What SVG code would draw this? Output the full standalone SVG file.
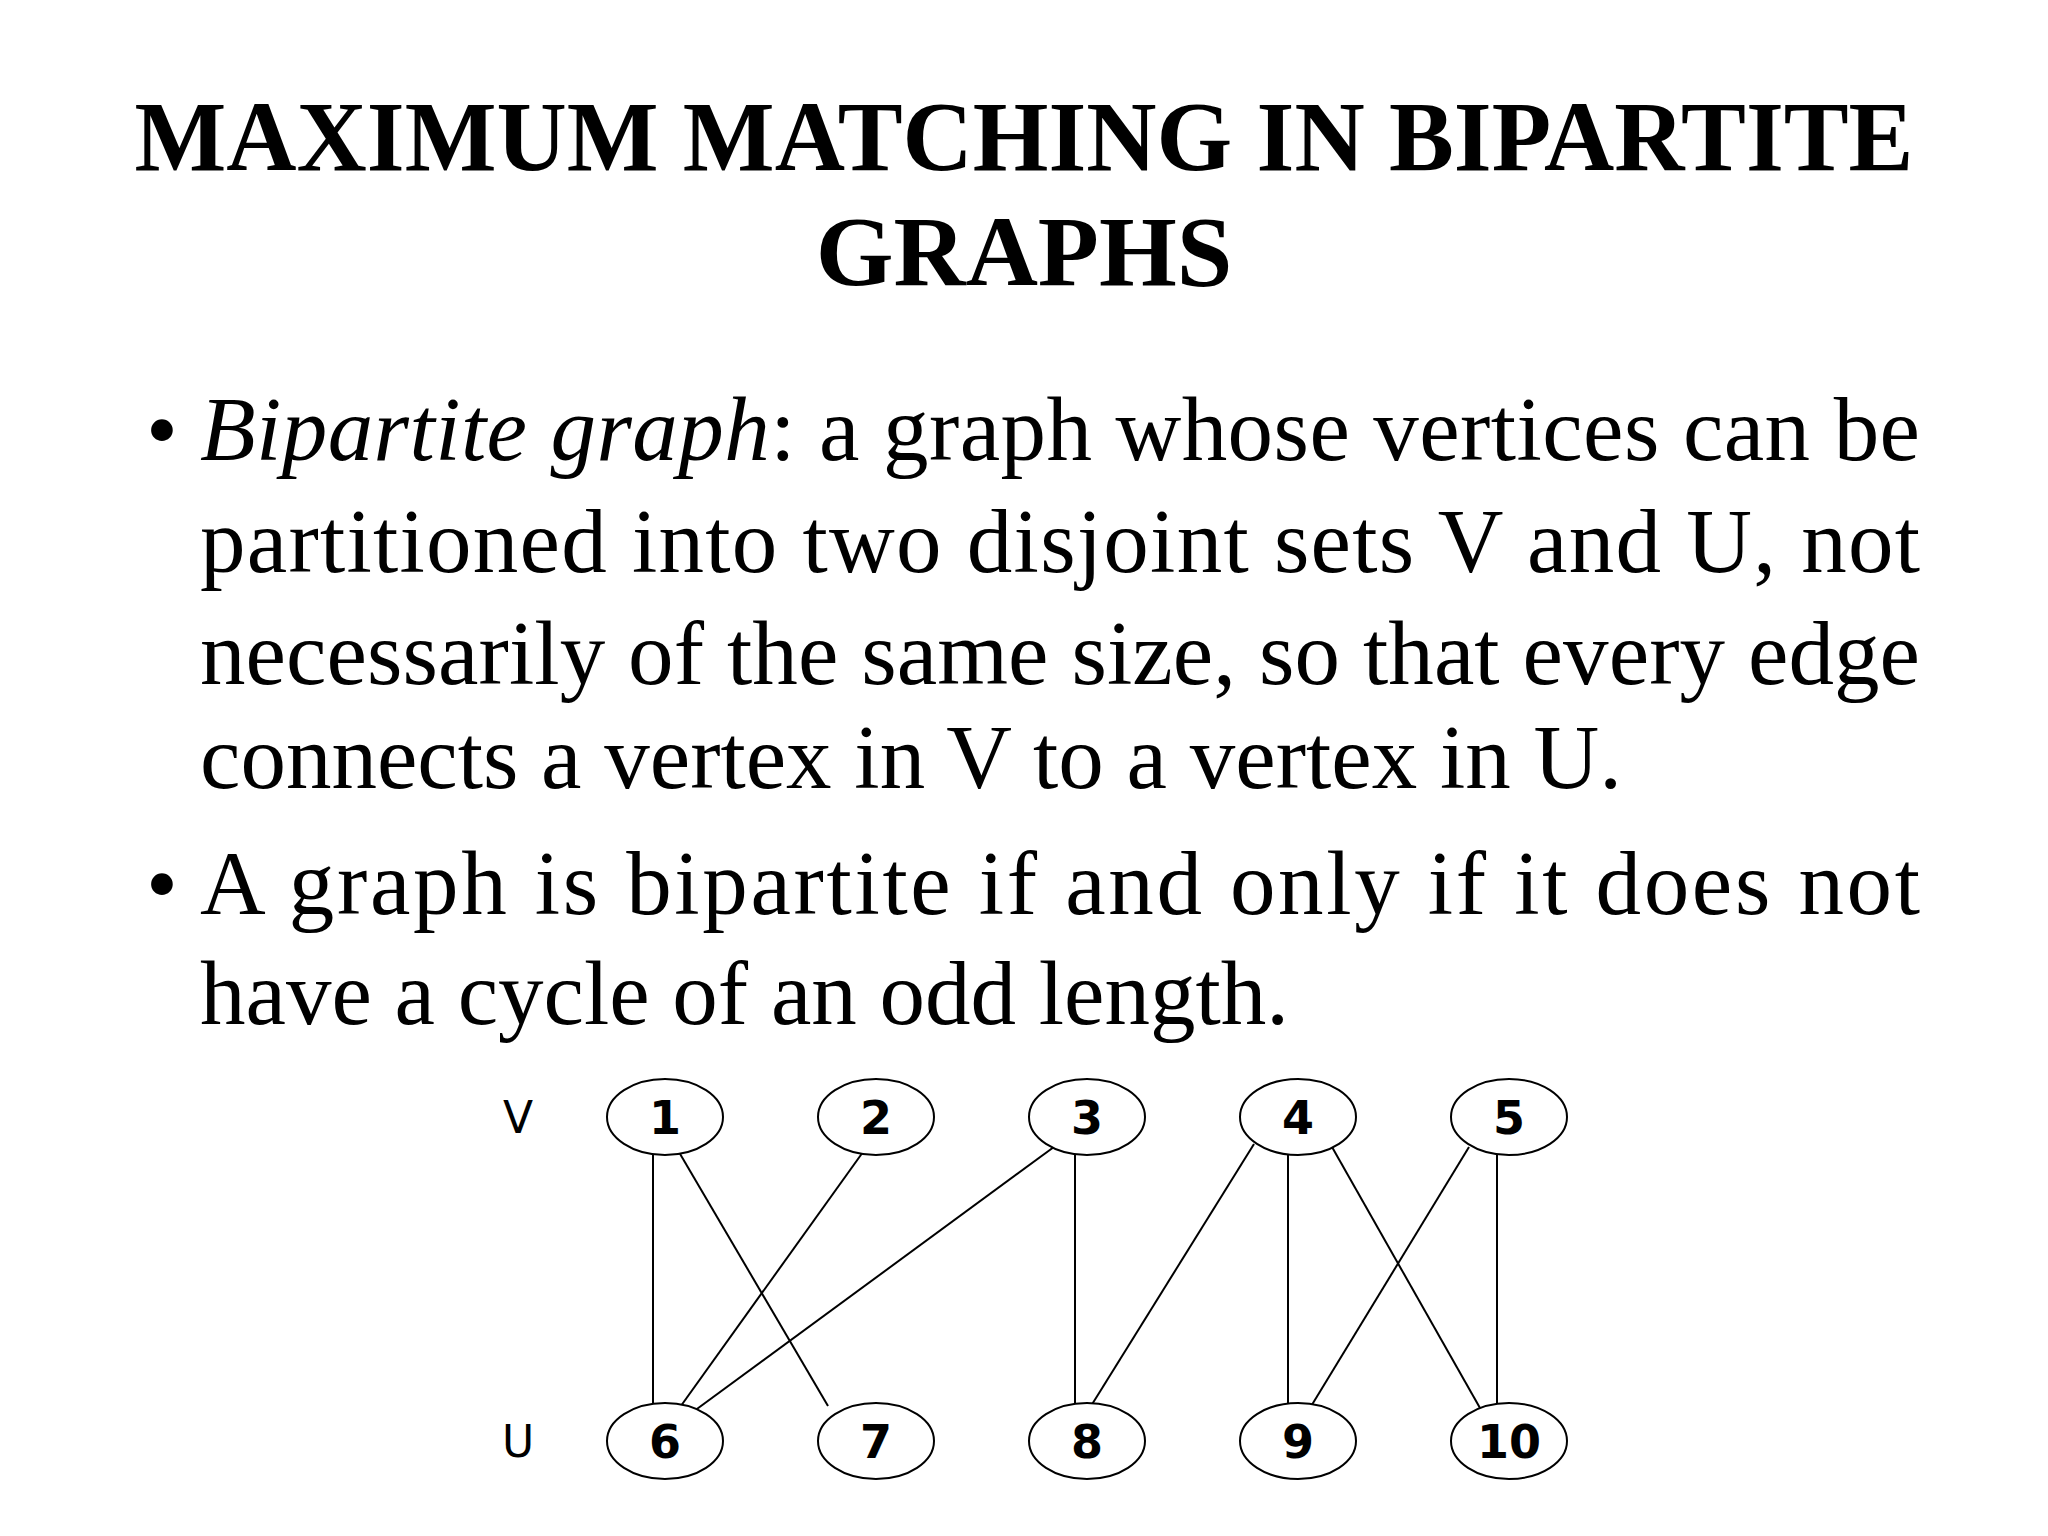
<svg xmlns="http://www.w3.org/2000/svg" width="2048" height="1536" viewBox="0 0 2048 1536">
<style>
.t{font-family:"Liberation Serif","Times New Roman",serif;font-weight:bold;font-size:100px;text-anchor:middle}
.b{font-family:"Liberation Serif","Times New Roman",serif;font-size:91px}
.n ellipse{fill:#fff;stroke:#000;stroke-width:2}
.n text{font-family:"DejaVu Sans",sans-serif;font-weight:bold;font-size:46px;text-anchor:middle}
.lab{font-family:"DejaVu Sans",sans-serif;font-size:44px;text-anchor:middle}
#edges line{stroke:#000;stroke-width:2}
</style>
<rect width="2048" height="1536" fill="#fff"/>
<text class="t" x="1024" y="170" textLength="1779" lengthAdjust="spacingAndGlyphs">MAXIMUM MATCHING IN BIPARTITE</text>
<text class="t" x="1024" y="285">GRAPHS</text>
<text class="b" x="146" y="460">•</text>
<text class="b" x="200" y="460" textLength="1720" lengthAdjust="spacing"><tspan font-style="italic">Bipartite graph</tspan>: a graph whose vertices can be</text>
<text class="b" x="200" y="572" textLength="1720" lengthAdjust="spacing">partitioned into two disjoint sets V and U, not</text>
<text class="b" x="200" y="684" textLength="1720" lengthAdjust="spacing">necessarily of the same size, so that every edge</text>
<text class="b" x="200" y="788">connects a vertex in V to a vertex in U.</text>
<text class="b" x="146" y="914">•</text>
<text class="b" x="200" y="914" textLength="1720" lengthAdjust="spacing">A graph is bipartite if and only if it does not</text>
<text class="b" x="200" y="1024">have a cycle of an odd length.</text>
<text class="lab" x="518" y="1133">V</text>
<text class="lab" x="518" y="1457">U</text>
<g id="edges">
<line x1="653" y1="1154" x2="653" y2="1404"/>
<line x1="676" y1="1147" x2="828" y2="1406"/>
<line x1="863" y1="1152" x2="678" y2="1410"/>
<line x1="1058" y1="1144" x2="686" y2="1417"/>
<line x1="1075" y1="1154" x2="1075" y2="1404"/>
<line x1="1254" y1="1144" x2="1091" y2="1406"/>
<line x1="1288" y1="1154" x2="1288" y2="1404"/>
<line x1="1332" y1="1147" x2="1480" y2="1408"/>
<line x1="1469" y1="1147" x2="1310" y2="1408"/>
<line x1="1497" y1="1154" x2="1497" y2="1404"/>
</g>
<g id="n1" class="n"><ellipse cx="665" cy="1117" rx="58" ry="38"/><text x="665" y="1134">1</text></g>
<g id="n2" class="n"><ellipse cx="876" cy="1117" rx="58" ry="38"/><text x="876" y="1134">2</text></g>
<g id="n3" class="n"><ellipse cx="1087" cy="1117" rx="58" ry="38"/><text x="1087" y="1134">3</text></g>
<g id="n4" class="n"><ellipse cx="1298" cy="1117" rx="58" ry="38"/><text x="1298" y="1134">4</text></g>
<g id="n5" class="n"><ellipse cx="1509" cy="1117" rx="58" ry="38"/><text x="1509" y="1134">5</text></g>
<g id="n6" class="n"><ellipse cx="665" cy="1441" rx="58" ry="38"/><text x="665" y="1458">6</text></g>
<g id="n7" class="n"><ellipse cx="876" cy="1441" rx="58" ry="38"/><text x="876" y="1458">7</text></g>
<g id="n8" class="n"><ellipse cx="1087" cy="1441" rx="58" ry="38"/><text x="1087" y="1458">8</text></g>
<g id="n9" class="n"><ellipse cx="1298" cy="1441" rx="58" ry="38"/><text x="1298" y="1458">9</text></g>
<g id="n10" class="n"><ellipse cx="1509" cy="1441" rx="58" ry="38"/><text x="1509" y="1458">10</text></g>
</svg>
